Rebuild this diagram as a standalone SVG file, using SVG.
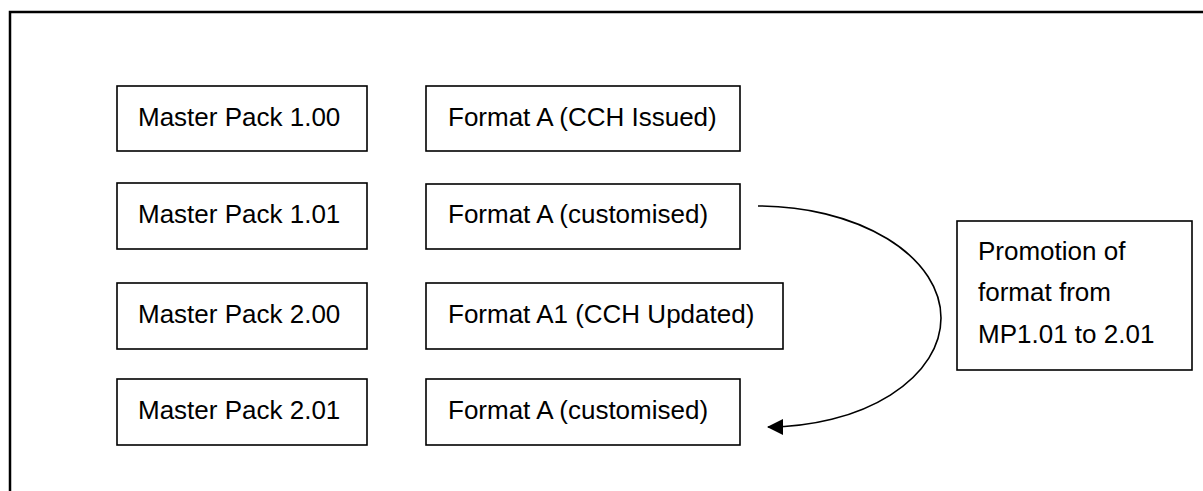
<svg xmlns="http://www.w3.org/2000/svg" width="1203" height="491" viewBox="0 0 1203 491">
<style>
.box{fill:#fff;stroke:#000;stroke-width:1.6}
.t{font-family:"Liberation Sans",Arial,sans-serif;font-size:26px;fill:#000}
.conn{fill:none;stroke:#000;stroke-width:1.6}
</style>
<defs>
<marker id="arr" viewBox="0 0 16 16" refX="15" refY="8" markerWidth="16" markerHeight="16" markerUnits="userSpaceOnUse" orient="auto">
<path d="M0,0 L16,8 L0,16 Z" fill="#000"/>
</marker>
</defs>
<rect x="0" y="0" width="1203" height="491" fill="#fff"/>
<rect id="frame" x="10" y="12" width="1210" height="500" fill="none" stroke="#000" stroke-width="2.5"/>
<g id="mp100"><rect class="box" x="117" y="86" width="250" height="65"/><text class="t" x="138" y="126">Master Pack 1.00</text></g>
<g id="mp101"><rect class="box" x="117" y="183" width="250" height="66"/><text class="t" x="138" y="223">Master Pack 1.01</text></g>
<g id="mp200"><rect class="box" x="117" y="283" width="250" height="66"/><text class="t" x="138" y="323">Master Pack 2.00</text></g>
<g id="mp201"><rect class="box" x="117" y="379" width="250" height="66"/><text class="t" x="138" y="419">Master Pack 2.01</text></g>
<g id="fa1"><rect class="box" x="426" y="86" width="314" height="65"/><text class="t" x="448" y="126">Format A (CCH Issued)</text></g>
<g id="fa2"><rect class="box" x="426" y="184" width="314" height="65"/><text class="t" x="448" y="223">Format A (customised)</text></g>
<g id="fa3"><rect class="box" x="426" y="283" width="357" height="66"/><text class="t" x="448" y="323">Format A1 (CCH Updated)</text></g>
<g id="fa4"><rect class="box" x="426" y="379" width="314" height="66"/><text class="t" x="448" y="419">Format A (customised)</text></g>
<g id="promo"><rect class="box" x="957" y="221" width="235" height="149"/>
<text class="t" x="978" y="260">Promotion of</text>
<text class="t" x="978" y="301">format from</text>
<text class="t" x="978" y="343">MP1.01 to 2.01</text></g>
<g id="connectors">
<path class="conn" d="M758,206 A183,112 0 0 1 941,318 A173,109 0 0 1 768,427" marker-end="url(#arr)"/>
</g>
</svg>
